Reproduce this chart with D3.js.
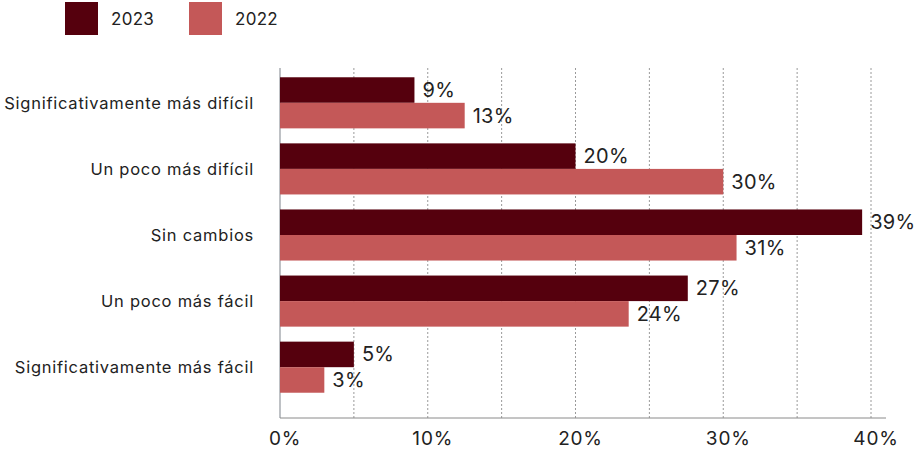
<!DOCTYPE html>
<html>
<head>
<meta charset="utf-8">
<script src="https://cdn.jsdelivr.net/npm/d3@7"></script>
<style>
  body { margin: 0; background: #fff; }
  svg { display: block; font-family: Inter, "Open Sans", sans-serif; }
  .grid line { stroke: #9a9a9a; stroke-dasharray: 2,2; }
  .cat { font-size: 16.5px; fill: #222; letter-spacing: 0.75px; }
  .val { font-size: 20px; fill: #222; letter-spacing: 0.3px; }
  .tick-lbl { font-size: 19px; fill: #222; letter-spacing: 0.8px; }
  .legend text { font-size: 17px; fill: #222; letter-spacing: 0.3px; }
</style>
</head>
<body>
<svg id="chart" width="917" height="450"></svg>
<script>
// categories, top to bottom
var categories = [
  "Significativamente más difícil",
  "Un poco más difícil",
  "Sin cambios",
  "Un poco más fácil",
  "Significativamente más fácil"
];
var series = ["2023", "2022"];
// bar lengths (%)
var values2023 = [9.1, 20, 39.4, 27.6, 5];
var values2022 = [12.5, 30, 30.9, 23.6, 3];
// value labels as printed
var labels2023 = ["9%", "20%", "39%", "27%", "5%"];
var labels2022 = ["13%", "30%", "31%", "24%", "3%"];
var ticks = [0, 10, 20, 30, 40];
var gridTicks = [5, 10, 15, 20, 25, 30, 35, 40];
var colors = ["#55000d", "#c45858"];

var svg = d3.select("#chart");
var top_y = 68, bottom_y = 418;

var x = d3.scaleLinear().domain([0, 40]).range([280, 871]);
var y = d3.scaleBand().domain(categories).range([70, 400])
          .paddingInner(0.227).paddingOuter(0.11);
var y1 = d3.scaleBand().domain(series).range([0, y.bandwidth()]);

// gridlines
svg.append("g").attr("class", "grid")
   .selectAll("line").data(gridTicks).enter().append("line")
   .attr("x1", function(d) { return x(d); })
   .attr("x2", function(d) { return x(d); })
   .attr("y1", top_y).attr("y2", bottom_y);

// axis lines
svg.append("line").attr("x1", x(0)).attr("x2", x(0))
   .attr("y1", top_y).attr("y2", bottom_y)
   .attr("stroke", "#a8adb2").attr("stroke-width", 1.5);
svg.append("line").attr("x1", x(0)).attr("x2", 886)
   .attr("y1", bottom_y).attr("y2", bottom_y)
   .attr("stroke", "#8a8a8a").attr("stroke-width", 1);

// bars
var rows = categories.map(function(c, i) {
  return { cat: c, vals: [
    { s: "2023", v: values2023[i], l: labels2023[i] },
    { s: "2022", v: values2022[i], l: labels2022[i] }
  ]};
});

var g = svg.selectAll("g.row").data(rows).enter().append("g")
   .attr("class", "row")
   .attr("transform", function(d) { return "translate(0," + y(d.cat) + ")"; });

g.selectAll("rect").data(function(d) { return d.vals; }).enter().append("rect")
   .attr("x", x(0))
   .attr("y", function(d) { return y1(d.s); })
   .attr("width", function(d) { return x(d.v) - x(0); })
   .attr("height", y1.bandwidth())
   .attr("fill", function(d, i) { return colors[i]; });

g.selectAll("text.val").data(function(d) { return d.vals; }).enter().append("text")
   .attr("class", "val")
   .attr("x", function(d) { return x(d.v) + 8; })
   .attr("y", function(d) { return y1(d.s) + y1.bandwidth() / 2; })
   .attr("dy", "0.35em")
   .text(function(d) { return d.l; });

// category labels
svg.selectAll("text.cat").data(categories).enter().append("text")
   .attr("class", "cat")
   .attr("x", 254)
   .attr("y", function(d) { return y(d) + y.bandwidth() / 2; })
   .attr("dy", "0.35em")
   .attr("text-anchor", "end")
   .text(function(d) { return d; });

// x tick labels
svg.selectAll("text.tick-lbl").data(ticks).enter().append("text")
   .attr("class", "tick-lbl")
   .attr("x", function(d) { return x(d) + 5; })
   .attr("y", 438)
   .attr("dy", "0.35em")
   .attr("text-anchor", "middle")
   .text(function(d) { return d + "%"; });

// legend
var legend = svg.append("g").attr("class", "legend");
var lg = legend.selectAll("g").data(series).enter().append("g")
   .attr("transform", function(d, i) { return "translate(" + (65 + i * 124) + ",2)"; });
lg.append("rect").attr("width", 33).attr("height", 33)
   .attr("fill", function(d, i) { return colors[i]; });
lg.append("text").attr("x", 46).attr("y", 17).attr("dy", "0.35em")
   .text(function(d) { return d; });
</script>
</body>
</html>
